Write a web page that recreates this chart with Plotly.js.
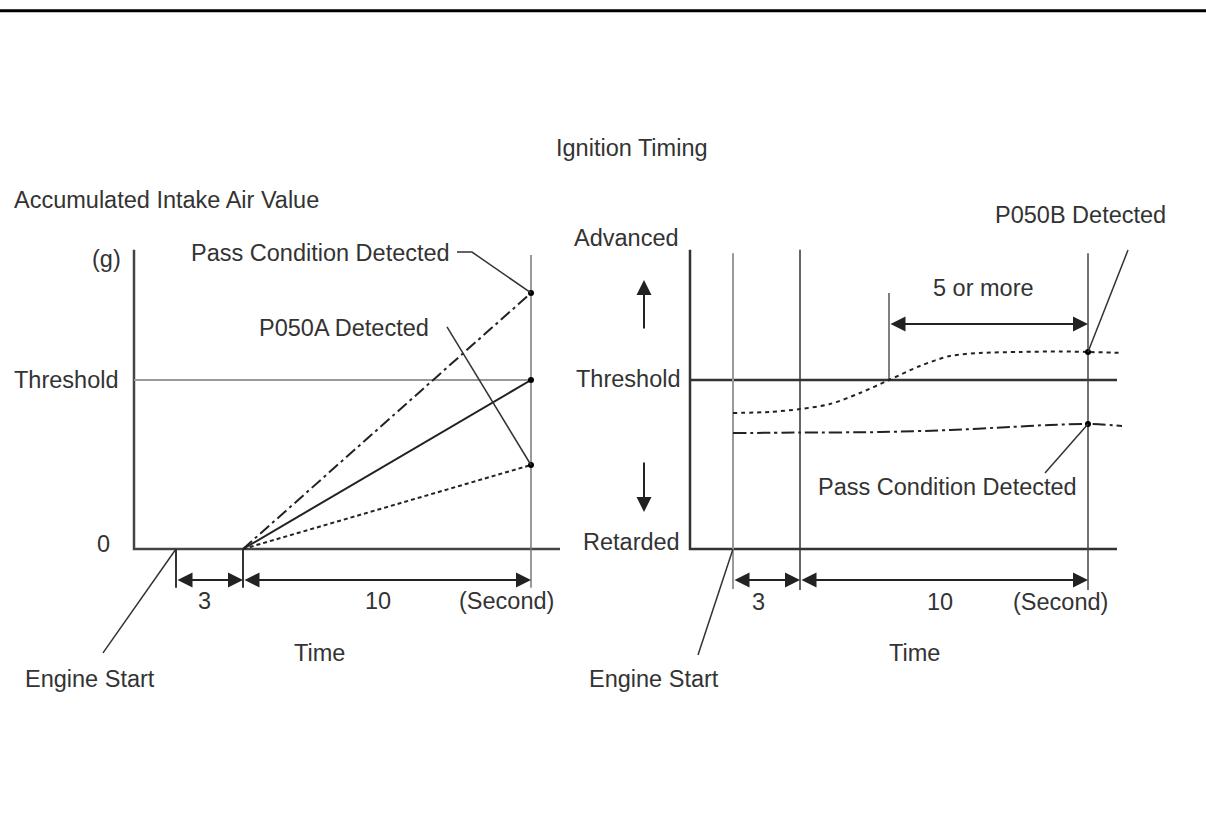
<!DOCTYPE html>
<html>
<head>
<meta charset="utf-8">
<script src="https://cdn.plot.ly/plotly-3.0.1.min.js"></script>
<style>html,body{margin:0;padding:0;background:#fff}#chart{width:1206px;height:825px}</style>
</head>
<body>
<div id="chart"></div>
<script>
// ---------------- DATA ----------------
// Diagram units: x = position along each time axis (axis origin = 0),
// y = 0 at the zero / "Retarded" line, 1 at the threshold.

// Left panel: Accumulated Intake Air Value
const leftTimeMarks  = [4.2, 10.9, 39.7];          // engine start, +3 s, +10 s
const leftTimeLabels = ['3', '10', '(Second)'];
const leftCaseNames  = ['Pass Condition Detected', 'Threshold', 'P050A Detected'];
const leftCaseEnd    = [1.515, 1.0, 0.497];        // value at end of the 10 s window
const leftAxisTop    = 1.77;
const leftAxisEnd    = 42.6;

// Right panel: Ignition Timing
const rightTimeMarks   = [4.3, 11.0, 39.8];        // engine start, +3 s, +10 s
const rightTimeLabels  = ['3', '10', '(Second)'];
const rightOverStart   = 19.9;                     // start of "5 or more" above threshold
const rightP050BX = [4.3, 8.0, 11.0, 14.0, 17.0, 19.9, 23.0, 26.0, 29.0, 33.0, 37.0, 39.8, 43.2];
const rightP050BY = [0.805, 0.811, 0.828, 0.858, 0.923, 1.0, 1.083, 1.142, 1.160, 1.166, 1.169, 1.166, 1.160];
const rightPassX  = [4.3, 11.0, 19.0, 26.0, 32.0, 36.0, 39.8, 43.2];
const rightPassY  = [0.686, 0.689, 0.692, 0.704, 0.722, 0.734, 0.740, 0.728];
const rightAxisTop = 1.77;
const rightAxisEnd = 42.7;
const yLevelNames  = ['Advanced', 'Threshold', 'Retarded'];

// ---------------- STYLE / HELPERS ----------------
const FONT = {family: 'Liberation Sans, Arial, sans-serif', size: 23.5, color: '#333'};
const INK = '#222';
const traces = [];
function seg(side, xs, ys, color, width, dash, shape) {
  traces.push({
    type: 'scatter', mode: 'lines', x: xs, y: ys,
    xaxis: side === 'R' ? 'x2' : 'x', yaxis: side === 'R' ? 'y2' : 'y',
    line: {color: color, width: width, dash: dash || 'solid', shape: shape || 'linear', smoothing: 0.8},
    hoverinfo: 'skip', showlegend: false
  });
}
function dots(side, xs, ys) {
  traces.push({
    type: 'scatter', mode: 'markers', x: xs, y: ys,
    xaxis: side === 'R' ? 'x2' : 'x', yaxis: side === 'R' ? 'y2' : 'y',
    marker: {color: '#000', size: 6}, hoverinfo: 'skip', showlegend: false, cliponaxis: false
  });
}
const annotations = [];
function label(side, text, x, y, xanchor) {
  annotations.push({
    text: text, x: x, y: y, xref: side === 'R' ? 'x2' : 'x', yref: side === 'R' ? 'y2' : 'y',
    showarrow: false, xanchor: xanchor || 'center', yanchor: 'middle', font: FONT
  });
}
function arrow(side, x0, y0, x1, y1, both) {
  const xr = side === 'R' ? 'x2' : 'x', yr = side === 'R' ? 'y2' : 'y';
  annotations.push({
    text: '', x: x1, y: y1, ax: x0, ay: y0, xref: xr, yref: yr, axref: xr, ayref: yr,
    showarrow: true, arrowhead: 2, startarrowhead: 2, arrowside: both ? 'end+start' : 'end',
    arrowsize: 1.5, startarrowsize: 1.5, arrowwidth: 2, arrowcolor: INK, standoff: 0, startstandoff: 0
  });
}

// ---------------- LEFT PANEL ----------------
const [lStart, lJudge, lEnd] = leftTimeMarks;
seg('L', [0, 0, leftAxisEnd], [leftAxisTop, 0, 0], '#444', 2.5);
seg('L', [0, lEnd], [1, 1], '#999', 2);
seg('L', [lEnd, lEnd], [1.74, -0.23], '#777', 1.5);
seg('L', [lStart, lStart], [0, -0.23], '#333', 2);
seg('L', [lJudge, lJudge], [0, -0.23], '#333', 2);
const leftDash = ['12px,4px,3px,4px', 'solid', '4px,3px'];
leftCaseEnd.forEach((v, i) => seg('L', [lJudge, lEnd], [0, v], INK, 2, leftDash[i]));
dots('L', leftCaseEnd.map(() => lEnd), leftCaseEnd);
// leaders
seg('L', [32.3, 33.8, lEnd], [1.757, 1.757, leftCaseEnd[0]], '#333', 1.5);
seg('L', [31.3, lEnd], [1.314, leftCaseEnd[2]], '#333', 1.5);
seg('L', [lStart, -3.1], [0, -0.615], '#333', 1.5);
// dimension arrows
arrow('L', lStart, -0.183, lJudge, -0.183, true);
arrow('L', lJudge, -0.183, lEnd, -0.183, true);
// texts
label('L', 'Accumulated Intake Air Value', -12.2, 2.065, 'left');
label('L', '(g)', -2.8, 1.716);
label('L', 'Threshold', -6.8, 1.0);
label('L', '0', -3.1, 0.03);
label('L', leftCaseNames[0], 18.6, 1.751);
label('L', leftCaseNames[2], 21.0, 1.308);
label('L', leftTimeLabels[0], 7.0, -0.308);
label('L', leftTimeLabels[1], 24.4, -0.308);
label('L', leftTimeLabels[2], 37.2, -0.308);
label('L', 'Time', 18.5, -0.615);
label('L', 'Engine Start', -4.4, -0.769);

// ---------------- RIGHT PANEL ----------------
const [rStart, rJudge, rEnd] = rightTimeMarks;
seg('R', [0, 0, rightAxisEnd], [rightAxisTop, 0, 0], '#333', 2.5);
seg('R', [0, rightAxisEnd], [1, 1], '#333', 2.5);
seg('R', [rStart, rStart], [1.75, -0.237], '#999', 2);
seg('R', [rJudge, rJudge], [1.77, -0.243], '#333', 1.5);
seg('R', [rEnd, rEnd], [1.75, -0.243], '#444', 1.5);
seg('R', [rightOverStart, rightOverStart], [1.0, 1.515], '#555', 1.5);
seg('R', rightP050BX, rightP050BY, INK, 2, '4px,4px', 'spline');
seg('R', rightPassX, rightPassY, INK, 2, '13px,4px,3px,4px', 'spline');
const iEndB = rightP050BX.indexOf(rEnd), iEndP = rightPassX.indexOf(rEnd);
dots('R', [rEnd, rEnd], [rightP050BY[iEndB], rightPassY[iEndP]]);
// leaders
seg('R', [rEnd, 43.8], [rightP050BY[iEndB], 1.769], '#333', 1.5);
seg('R', [rEnd, 35.5], [rightPassY[iEndP], 0.450], '#333', 1.5);
seg('R', [rStart, 0.8], [0, -0.627], '#333', 1.5);
// arrows
arrow('R', rightOverStart, 1.331, rEnd, 1.331, true);
arrow('R', rStart, -0.183, rJudge, -0.183, true);
arrow('R', rJudge, -0.183, rEnd, -0.183, true);
arrow('R', -4.6, 1.296, -4.6, 1.592, false);
arrow('R', -4.6, 0.521, -4.6, 0.219, false);
// texts
label('R', 'Ignition Timing', -5.8, 2.373);
label('R', yLevelNames[0], -6.4, 1.840);
label('R', yLevelNames[1], -6.2, 1.006);
label('R', yLevelNames[2], -5.9, 0.041);
label('R', '5 or more', 29.3, 1.544);
label('R', 'P050B Detected', 39.0, 1.976);
label('R', 'Pass Condition Detected', 25.7, 0.367);
label('R', rightTimeLabels[0], 6.8, -0.314);
label('R', rightTimeLabels[1], 25.0, -0.314);
label('R', rightTimeLabels[2], 37.0, -0.314);
label('R', 'Time', 22.4, -0.615);
label('R', 'Engine Start', -3.6, -0.769);

// ---------------- LAYOUT ----------------
const Y_RANGE = [-1.6331, 3.2485];
const layout = {
  width: 1206, height: 825,
  margin: {l: 0, r: 0, t: 0, b: 0, pad: 0},
  paper_bgcolor: '#fff', plot_bgcolor: '#fff',
  showlegend: false,
  xaxis:  {domain: [0, 1], range: [-13.4, 107.2], visible: false, fixedrange: true},
  yaxis:  {domain: [0, 1], range: Y_RANGE, visible: false, fixedrange: true},
  xaxis2: {overlaying: 'x', anchor: 'y2', range: [-69, 51.6], visible: false, fixedrange: true},
  yaxis2: {overlaying: 'y', anchor: 'x2', range: Y_RANGE, visible: false, fixedrange: true},
  shapes: [
    {type: 'line', xref: 'paper', yref: 'paper', x0: 0, x1: 1, y0: 1 - 10.8 / 825, y1: 1 - 10.8 / 825,
     line: {color: '#000', width: 3}}
  ],
  annotations: annotations
};
Plotly.newPlot('chart', traces, layout, {staticPlot: true, displayModeBar: false});
</script>
</body>
</html>
